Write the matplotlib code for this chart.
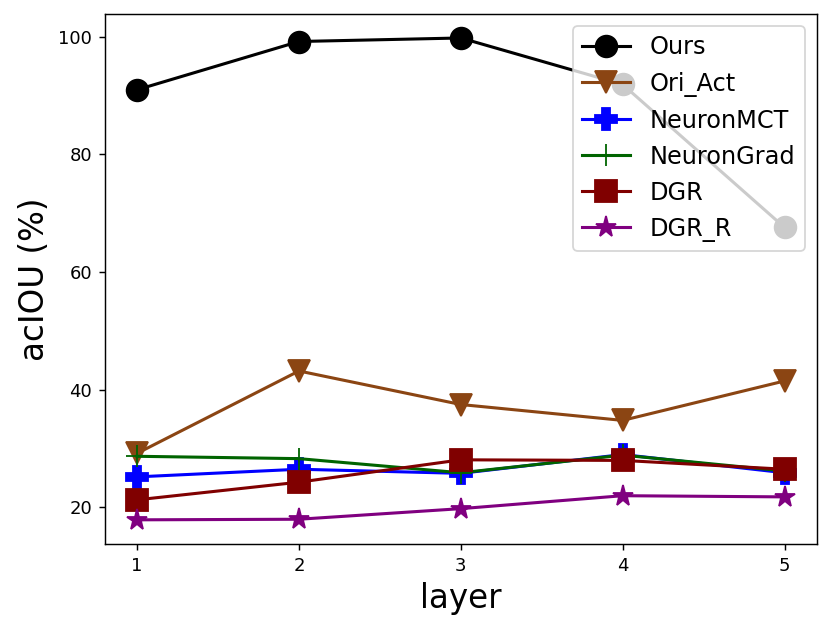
import matplotlib
matplotlib.use('Agg')
import matplotlib.pyplot as plt

# Data
layers = [1, 2, 3, 4, 5]
ours = [91.0, 99.2, 99.8, 91.9, 67.6]
ori_act = [29.2, 43.2, 37.5, 34.8, 41.5]
neuron_mct = [25.2, 26.5, 25.8, 29.0, 25.9]
neuron_grad = [28.7, 28.3, 25.9, 28.9, 26.2]
dgr = [21.3, 24.3, 28.1, 28.0, 26.5]
dgr_r = [17.9, 18.0, 19.8, 22.0, 21.8]

fig = plt.figure(figsize=(831 / 130, 631 / 130), dpi=130)
ax = fig.add_subplot(111)
fig.subplots_adjust(left=0.126, right=0.983, top=0.978, bottom=0.138)

ms = 12
lw = 1.7
ax.plot(layers, ours, marker='o', color='black', markersize=ms, linewidth=lw, label='Ours')
ax.plot(layers, ori_act, marker='v', color='#8B4513', markersize=ms, linewidth=lw, label='Ori_Act')
ax.plot(layers, neuron_mct, marker='P', color='blue', markersize=ms, linewidth=lw, label='NeuronMCT')
ax.plot(layers, neuron_grad, marker='+', color='darkgreen', markersize=ms, linewidth=lw, label='NeuronGrad')
ax.plot(layers, dgr, marker='s', color='#800000', markersize=ms, linewidth=lw, label='DGR')
ax.plot(layers, dgr_r, marker='*', color='purple', markersize=ms, linewidth=lw, label='DGR_R')

ax.set_xticks(layers)
ax.set_xlabel('layer', fontsize=18)
ax.set_ylabel('acIOU (%)', fontsize=18)
ax.legend(loc='upper right', fontsize=13.3)

fig.savefig('out.png', dpi=130)
